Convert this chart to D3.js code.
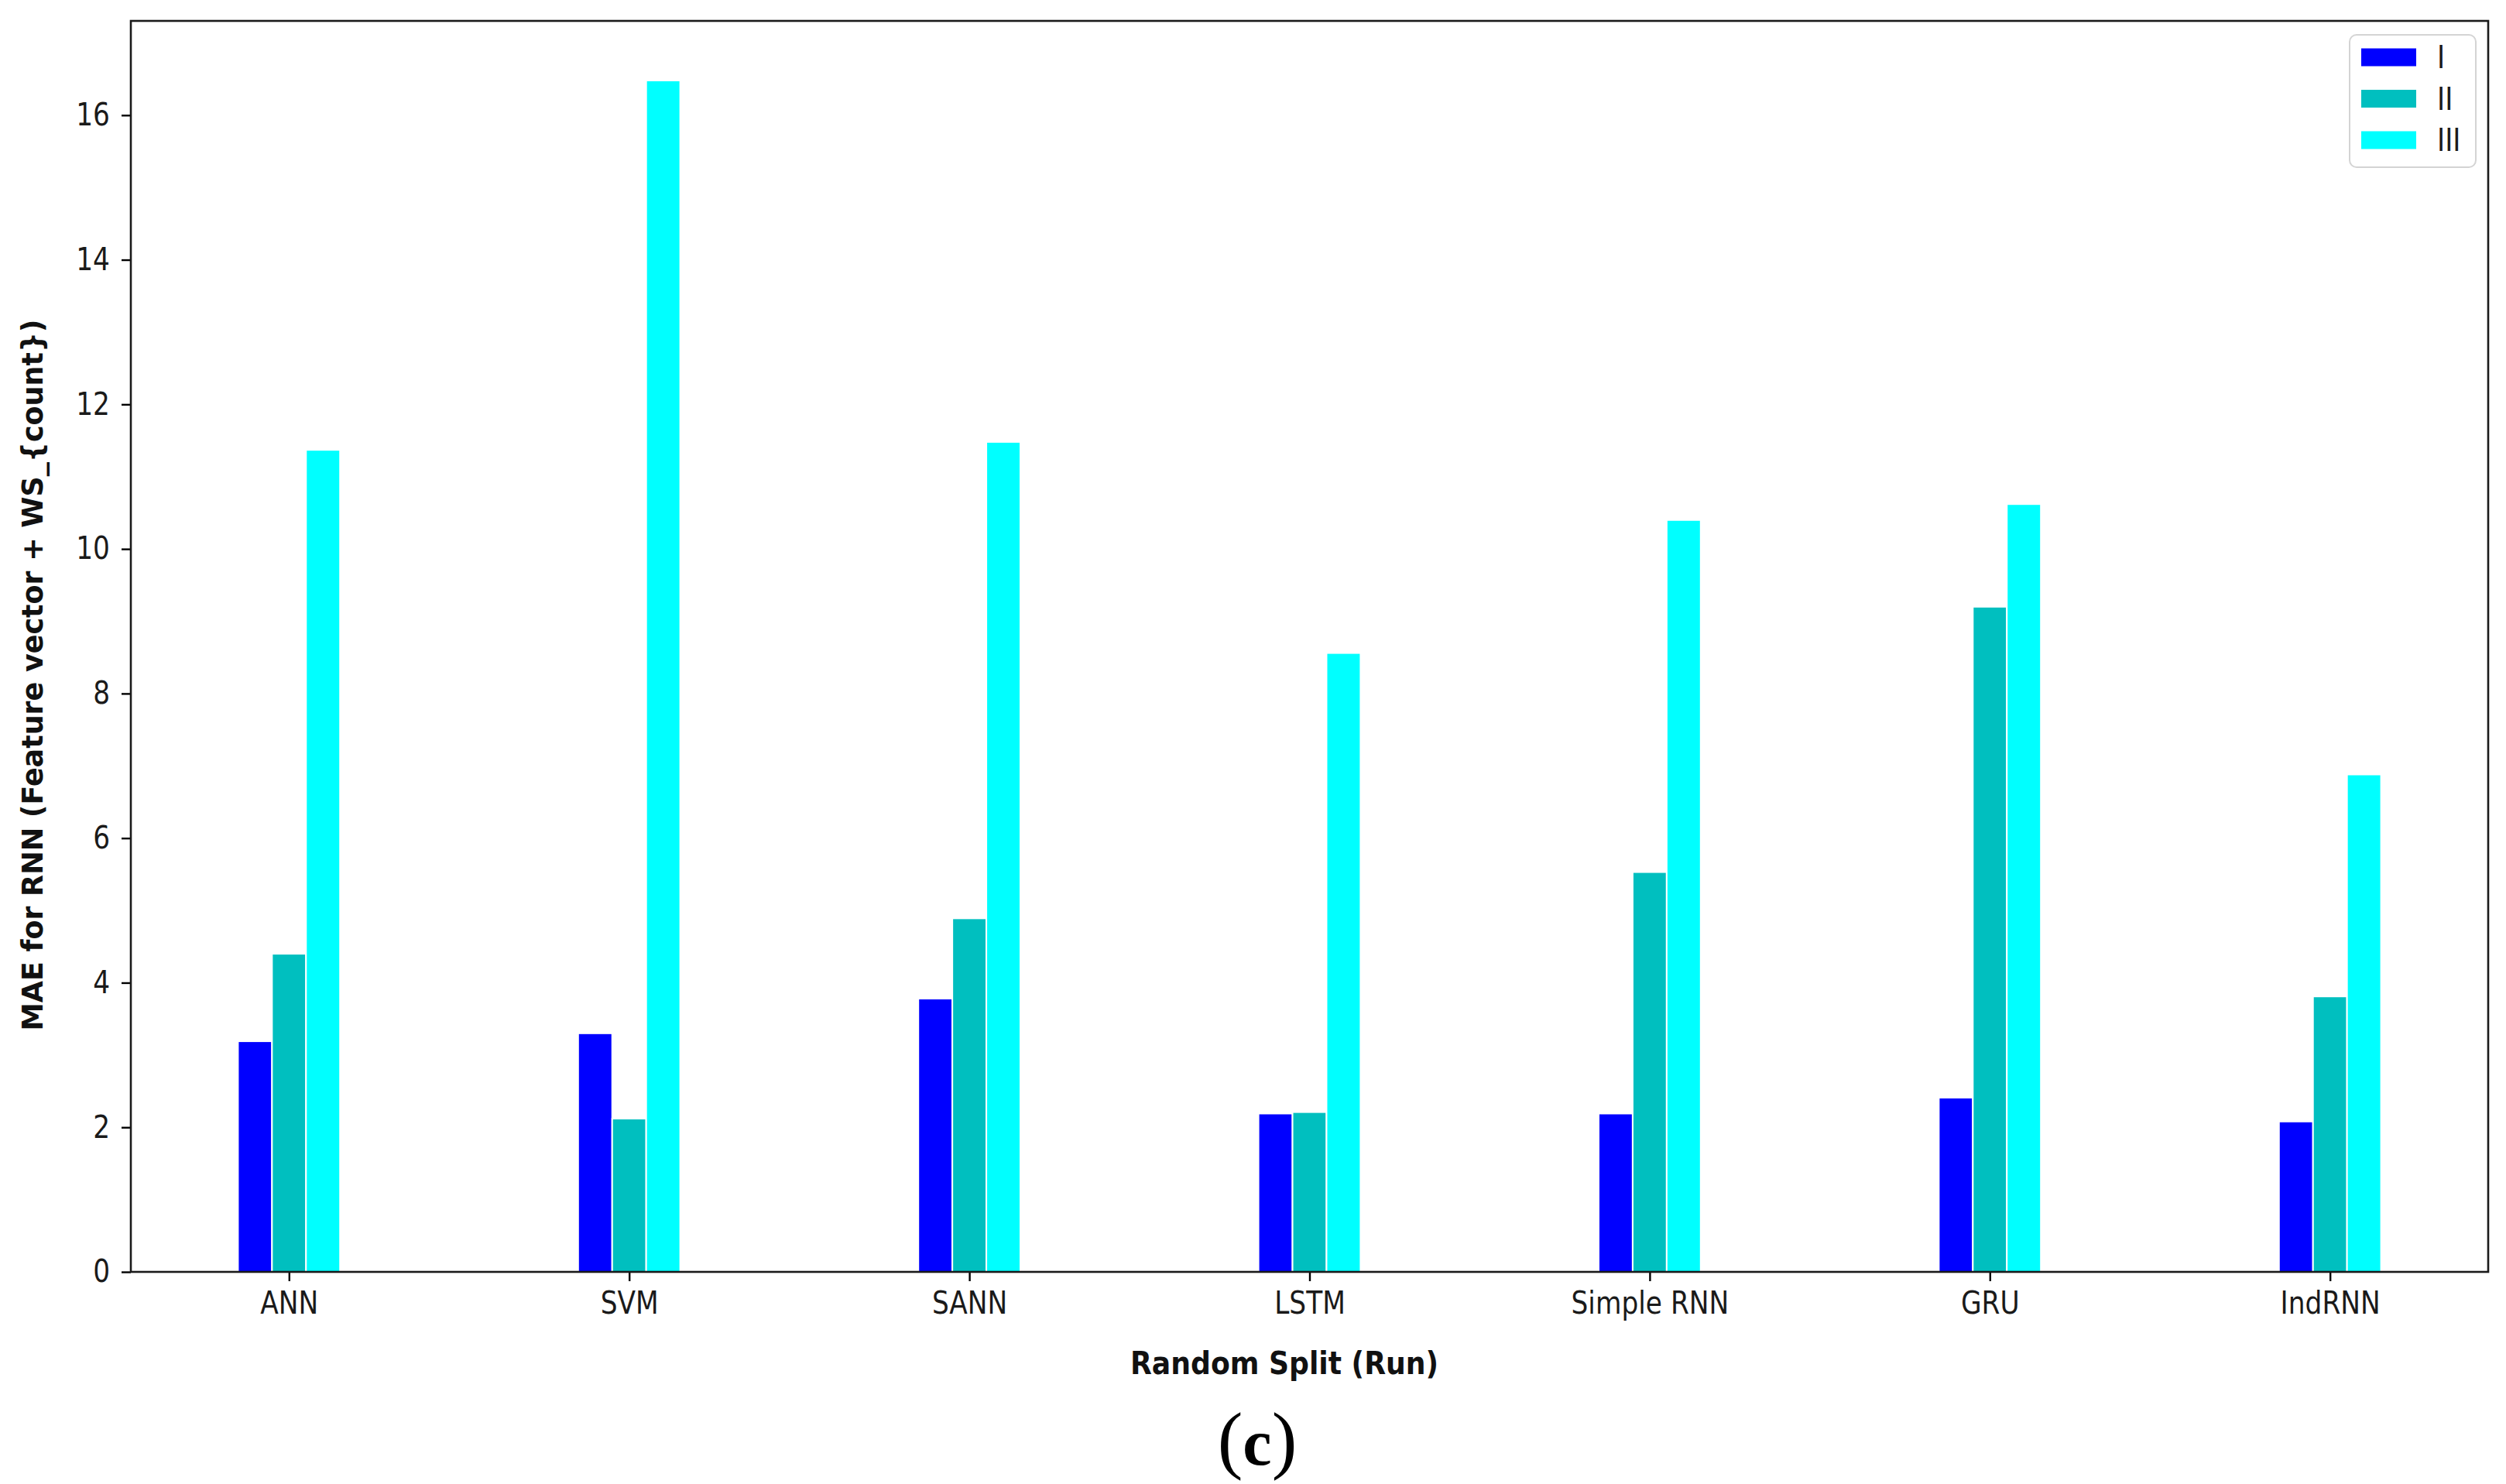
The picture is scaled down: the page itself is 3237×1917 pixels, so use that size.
<!DOCTYPE html>
<html>
<head>
<meta charset="utf-8">
<script src="https://cdn.jsdelivr.net/npm/d3@7"></script>
<style>
html,body{margin:0;padding:0;background:#fff;}
svg{display:block;}
</style>
</head>
<body>
<svg id="chart" width="3237" height="1917"></svg>
<script>
const categories = ["ANN", "SVM", "SANN", "LSTM", "Simple RNN", "GRU", "IndRNN"];
const seriesNames = ["I", "II", "III"];
const seriesI   = [3.19, 3.30, 3.78, 2.19, 2.19, 2.41, 2.08];
const seriesII  = [4.40, 2.12, 4.89, 2.21, 5.53, 9.20, 3.81];
const seriesIII = [11.37, 16.48, 11.48, 8.56, 10.40, 10.62, 6.88];
const seriesColors = ["#0000ff", "#00bfbf", "#00ffff"];
const yTicks = [0, 2, 4, 6, 8, 10, 12, 14, 16];
const xLabel = "Random Split (Run)";
const yLabel = "MAE for RNN (Feature vector + WS_{count})";
const caption = "c";

(function () {
const series = [seriesI, seriesII, seriesIII];
const barW = 0.1;
const offsets = [-0.1, 0, 0.1];

const svg = d3.select("#chart");
const pL = 169, pR = 3214, pT = 27, pB = 1643;
const FS = 40, SX = 0.86;
const font = "'DejaVu Sans', sans-serif";

const allMax = d3.max(series.flat());
const span = categories.length - 1 + 0.3;
const xMin = -0.15 - 0.05 * span;
const xMax = categories.length - 1 + 0.15 + 0.05 * span;
const x = d3.scaleLinear().domain([xMin, xMax]).range([pL, pR]);
const y = d3.scaleLinear().domain([0, allMax * 1.05]).range([pB, pT]);

// bars
const bars = [];
series.forEach((vals, si) => vals.forEach((v, ci) => bars.push({si, ci, v})));
svg.append("g").selectAll("rect").data(bars).join("rect")
  .attr("x", d => x(d.ci + offsets[d.si] - barW / 2))
  .attr("width", d => x(d.ci + offsets[d.si] + barW / 2) - x(d.ci + offsets[d.si] - barW / 2))
  .attr("y", d => y(d.v))
  .attr("height", d => y(0) - y(d.v))
  .attr("fill", d => seriesColors[d.si])
  .attr("stroke", "#ffffff")
  .attr("stroke-width", 2);

// x axis
const xAxis = d3.axisBottom(x)
  .tickValues(d3.range(categories.length))
  .tickFormat(i => categories[i])
  .tickSize(12).tickPadding(14);
const gx = svg.append("g").attr("transform", `translate(0,${pB})`).call(xAxis);
gx.select(".domain").remove();
gx.selectAll(".tick line").attr("stroke", "#000").attr("stroke-width", 2.4);
gx.selectAll(".tick text")
  .attr("font-family", font).attr("font-size", FS).attr("fill", "#1a1a1a")
  .attr("transform", `scale(${SX},1)`);

// y axis
const yAxis = d3.axisLeft(y).tickValues(yTicks).tickFormat(d3.format("d"))
  .tickSize(12).tickPadding(0);
const gy = svg.append("g").attr("transform", `translate(${pL},0)`).call(yAxis);
gy.select(".domain").remove();
gy.selectAll(".tick line").attr("stroke", "#000").attr("stroke-width", 2.4);
gy.selectAll(".tick text")
  .attr("font-family", font).attr("font-size", FS).attr("fill", "#1a1a1a")
  .attr("x", -27 / SX)
  .attr("transform", `scale(${SX},1)`);

// spines
svg.append("rect")
  .attr("x", pL).attr("y", pT)
  .attr("width", pR - pL).attr("height", pB - pT)
  .attr("fill", "none").attr("stroke", "#1a1a1a").attr("stroke-width", 2.6);

// axis labels
svg.append("text")
  .attr("x", 1659).attr("y", 1775)
  .attr("text-anchor", "middle")
  .attr("font-family", font).attr("font-size", FS).attr("font-weight", "bold").attr("fill", "#111")
  .attr("textLength", 398).attr("lengthAdjust", "spacingAndGlyphs")
  .text(xLabel);

svg.append("text")
  .attr("transform", "translate(55,872) rotate(-90)")
  .attr("text-anchor", "middle")
  .attr("font-family", font).attr("font-size", 37).attr("font-weight", "bold").attr("fill", "#111")
  .attr("textLength", 919).attr("lengthAdjust", "spacingAndGlyphs")
  .text(yLabel);

// legend
const lg = svg.append("g");
lg.append("rect")
  .attr("x", 3035).attr("y", 45).attr("width", 163).attr("height", 171)
  .attr("rx", 9).attr("fill", "#fff").attr("fill-opacity", 0.8)
  .attr("stroke", "#d4d4d4").attr("stroke-width", 2);
const li = lg.selectAll("g.item").data(seriesNames).join("g").attr("class", "item")
  .attr("transform", (d, i) => `translate(3050,${74 + i * 53.5})`);
li.append("rect").attr("x", 0).attr("y", -11.5).attr("width", 71).attr("height", 23)
  .attr("fill", (d, i) => seriesColors[i]);
li.append("text")
  .attr("x", 98 / SX).attr("y", 0).attr("dy", "0.36em")
  .attr("transform", `scale(${SX},1)`)
  .attr("font-family", font).attr("font-size", FS).attr("fill", "#1a1a1a")
  .text(d => d);

// caption
const cap = svg.append("text")
  .attr("x", 1624).attr("y", 1892)
  .attr("text-anchor", "middle")
  .attr("font-family", "'Liberation Serif', serif").attr("font-size", 98).attr("fill", "#000");
cap.append("tspan").text("(");
cap.append("tspan").attr("font-weight", "bold").attr("font-size", 84).text(caption);
cap.append("tspan").text(")");
})();
</script>
</body>
</html>
